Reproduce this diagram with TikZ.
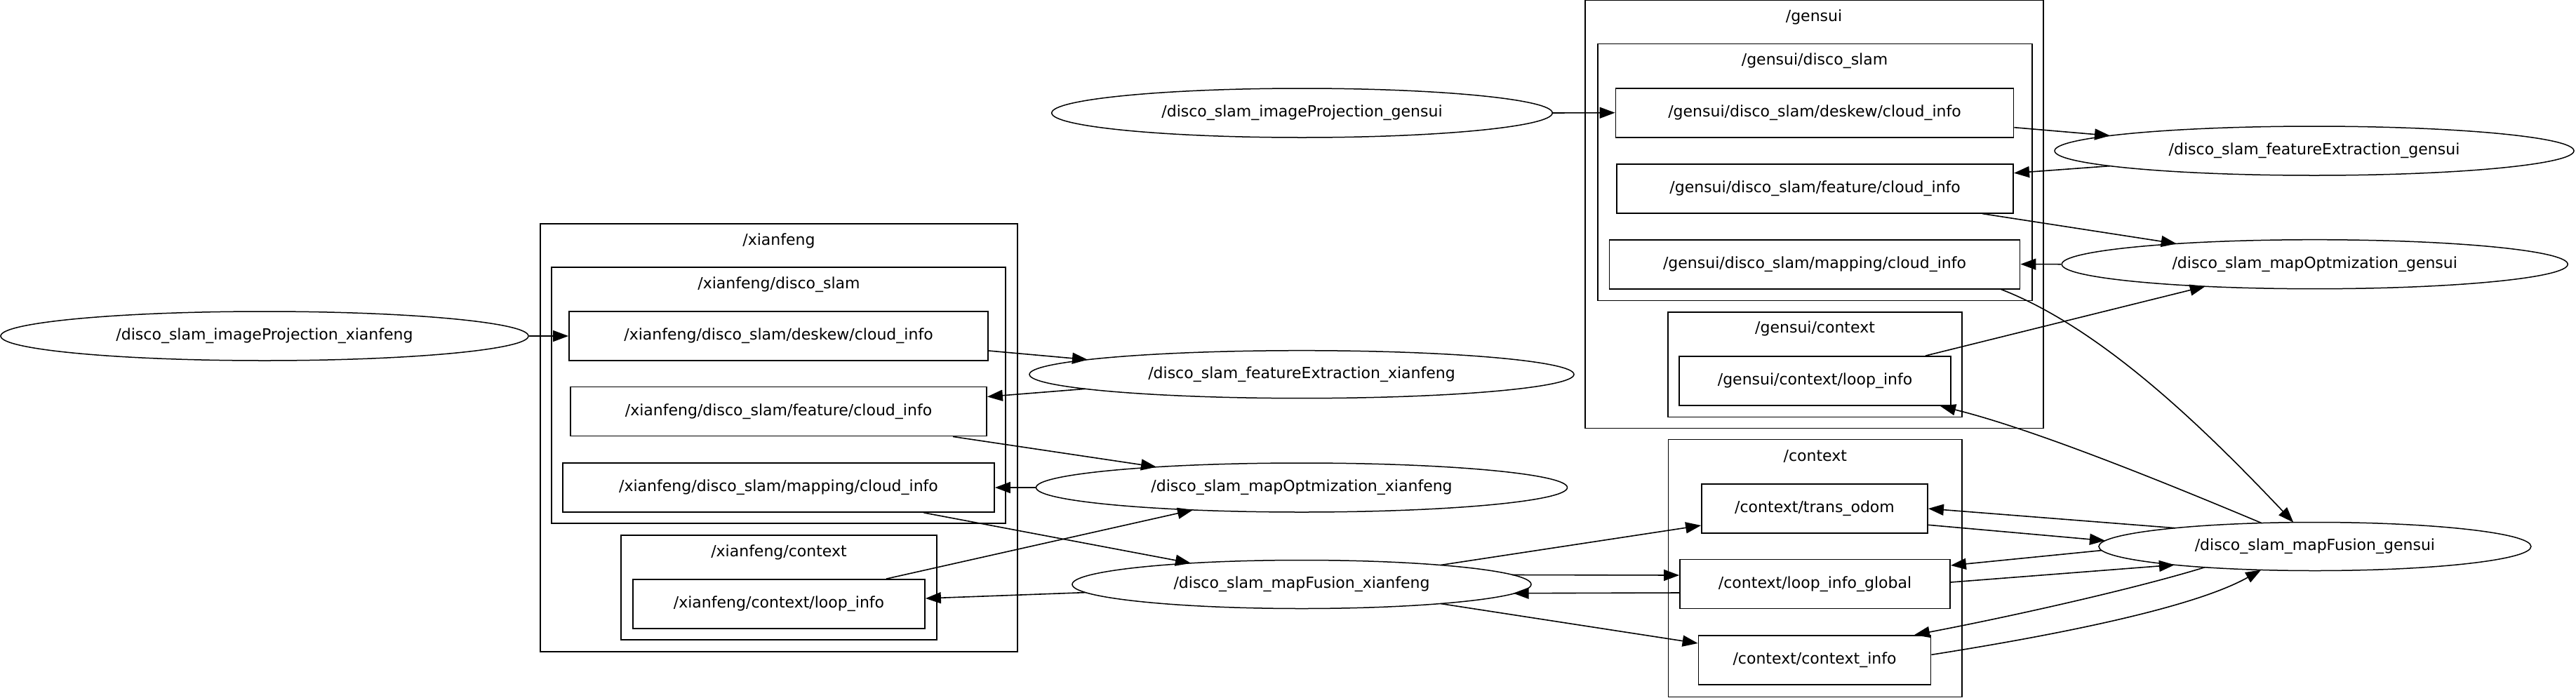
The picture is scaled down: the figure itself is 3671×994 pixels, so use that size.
\documentclass[tikz,border=0pt]{standalone}
\usepackage{fontspec}
\setmainfont{DejaVu Sans}
\usetikzlibrary{calc,arrows.meta,shapes.geometric}
\begin{document}
\begin{tikzpicture}[x=1pt,y=-1pt,
  font=\fontsize{22}{26}\selectfont,
  topic/.style={draw, line width=1.8pt, rectangle, inner sep=0pt, minimum height=70pt},
  rosnode/.style={draw, line width=1.5pt, ellipse, inner sep=0pt},
  cluster/.style={draw, line width=1.5pt, rectangle, inner sep=0pt},
  clabel/.style={inner sep=0pt},
  conn/.style={line width=1.6pt, -{Triangle[length=22pt,width=16pt]}}]
\useasboundingbox (0,0) rectangle (3671,994);

% clusters
\node[cluster, minimum width=680pt, minimum height=610pt] (cxf) at (1110,624) {};
\node[cluster, minimum width=647pt, minimum height=365pt] (cxfds) at (1109.5,563.5) {};
\node[cluster, minimum width=450pt, minimum height=149pt] (cxfc) at (1110,837.5) {};
\node[cluster, minimum width=652.7pt, minimum height=609.8pt] (cg) at (2585.4,305.6) {};
\node[cluster, minimum width=618.7pt, minimum height=365.8pt] (cgds) at (2586.4,245.4) {};
\node[cluster, minimum width=419pt, minimum height=149.3pt] (cgc) at (2586.5,519.7) {};
\node[cluster, minimum width=418.5pt, minimum height=366.6pt] (cctx) at (2586.8,810) {};

\node[clabel] (lcxf) at (1110,343.5) {/xianfeng};
\node[clabel] (lcxfds) at (1110,405.7) {/xianfeng/disco\_slam};
\node[clabel] (lcxfc) at (1110,787) {/xianfeng/context};
\node[clabel] (lcg) at (2585,24.5) {/gensui};
\node[clabel] (lcgds) at (2586,87) {/gensui/disco\_slam};
\node[clabel] (lcgc) at (2586.5,468.6) {/gensui/context};
\node[clabel] (lcctx) at (2586.8,650) {/context};

% xianfeng topics
\node[topic, minimum width=597pt] (dxk) at (1109.5,479) {/xianfeng/disco\_slam/deskew/cloud\_info};
\node[topic, minimum width=593pt] (fxk) at (1109.5,586.5) {/xianfeng/disco\_slam/feature/cloud\_info};
\node[topic, minimum width=615pt] (mxk) at (1109.5,695) {/xianfeng/disco\_slam/mapping/cloud\_info};
\node[topic, minimum width=416pt] (lxk) at (1110,861) {/xianfeng/context/loop\_info};

% gensui topics
\node[topic, minimum width=567pt] (dg) at (2586,160.7) {/gensui/disco\_slam/deskew/cloud\_info};
\node[topic, minimum width=565pt] (fg) at (2586.6,268.7) {/gensui/disco\_slam/feature/cloud\_info};
\node[topic, minimum width=585pt] (mg) at (2586,376.6) {/gensui/disco\_slam/mapping/cloud\_info};
\node[topic, minimum width=387pt] (lg) at (2586.5,543) {/gensui/context/loop\_info};

% context topics
\node[topic, minimum width=322pt] (tro) at (2586,725) {/context/trans\_odom};
\node[topic, minimum width=385pt] (lig) at (2586.5,832.5) {/context/loop\_info\_global};
\node[topic, minimum width=331pt] (cti) at (2586,941) {/context/context\_info};

% ros nodes
\node[rosnode, minimum width=752pt, minimum height=70pt] (ipx) at (377,479) {/disco\_slam\_imageProjection\_xianfeng};
\node[rosnode, minimum width=776pt, minimum height=68pt] (fex) at (1855,533.7) {/disco\_slam\_featureExtraction\_xianfeng};
\node[rosnode, minimum width=757pt, minimum height=70pt] (mox) at (1855,695) {/disco\_slam\_mapOptmization\_xianfeng};
\node[rosnode, minimum width=654pt, minimum height=69pt] (mfx) at (1855,833) {/disco\_slam\_mapFusion\_xianfeng};
\node[rosnode, minimum width=713.5pt, minimum height=70pt] (ipg) at (1855.5,161) {/disco\_slam\_imageProjection\_gensui};
\node[rosnode, minimum width=740pt, minimum height=70pt] (feg) at (3298,215) {/disco\_slam\_featureExtraction\_gensui};
\node[rosnode, minimum width=721pt, minimum height=70pt] (mog) at (3298.7,376.7) {/disco\_slam\_mapOptmization\_gensui};
\node[rosnode, minimum width=616pt, minimum height=69pt] (mfg) at (3298.9,779) {/disco\_slam\_mapFusion\_gensui};

% xianfeng edges
\draw[conn] (ipx.east) -- (dxk.west);
\draw[conn] ($(dxk.east)+(0,21)$) -- ($(fex)+(-305,-21)$);
\draw[conn] ($(fex)+(-308,20.6)$) -- ($(fxk.east)+(0,-21)$);
\draw[conn] ($(fxk.south)+(248.5,0)$) -- ($(mox)+(-207,-29.3)$);
\draw[conn] (mox.west) -- (mxk.east);
\draw[conn] ($(mxk.south)+(207,0)$) -- ($(mfx)+(-158,-30.2)$);
\draw[conn] ($(lxk.north)+(153,0)$) -- ($(mox)+(-155,31.9)$);
\draw[conn] ($(mfx)+(-308,11.6)$) -- ($(lxk.east)+(0,-8)$);
\draw[conn] ($(mfx)+(198,-27.5)$) -- ($(tro.west)+(0,24)$);
\draw[conn] ($(mfx)+(300,-13.5)$) -- ($(lig.west)+(0,-12.5)$);
\draw[conn] ($(lig.west)+(0,12.5)$) -- ($(mfx)+(301.5,12.7)$);
\draw[conn] ($(mfx)+(198,27.5)$) -- ($(cti.west)+(0,-24)$);

% gensui edges
\draw[conn] (ipg.east) -- (dg.west);
\draw[conn] ($(dg.east)+(0,21)$) -- ($(feg)+(-291,-21.6)$);
\draw[conn] ($(feg)+(-291,21.6)$) -- ($(fg.east)+(0,-22)$);
\draw[conn] ($(fg.south)+(238.4,0)$) -- ($(mog)+(-197,-29.3)$);
\draw[conn] (mog.west) -- (mg.east);
\draw[conn] ($(mg.south)+(265.7,0)$) .. controls (3000,470) and (3150,620) .. ($(mfg)+(-30.6,-34.3)$);
\draw[conn] ($(lg.north)+(157.5,0)$) -- ($(mog)+(-156,31.5)$);
\draw[conn] ($(mfg)+(-76,-33.4)$) .. controls (3100,694) and (2900,612) .. ($(lg.south)+(178.5,0)$);
\draw[conn] ($(mfg)+(-199,-26.3)$) -- (tro.east);
\draw[conn] ($(tro.east)+(0,23.3)$) -- ($(mfg)+(-299,-8.3)$);
\draw[conn] ($(mfg)+(-304,5.6)$) -- ($(lig.east)+(0,-26.5)$);
\draw[conn] ($(lig.east)+(0,-2.5)$) -- ($(mfg)+(-200,26.2)$);
\draw[conn] ($(mfg)+(-157,29.7)$) .. controls (3040,840) and (2860,880) .. ($(cti.north)+(142,0)$);
\draw[conn] ($(cti.east)+(0,-7.7)$) .. controls (2900,910) and (3120,870) .. ($(mfg)+(-76.7,33.4)$);
\end{tikzpicture}
\end{document}
